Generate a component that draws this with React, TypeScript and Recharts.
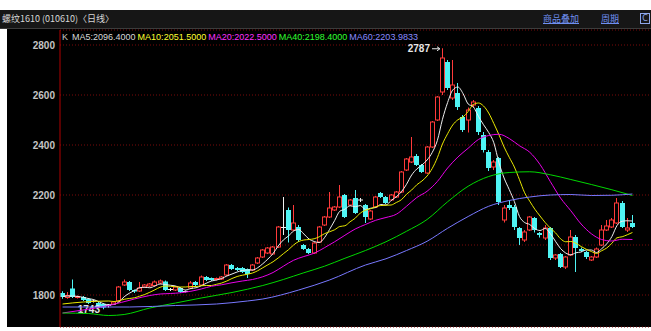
import React from 'react';
import { ComposedChart, Bar, Line, XAxis, YAxis, CartesianGrid } from 'recharts';

const OPEN = [
  1808, 1790, 1826, 1790, 1792, 1784, 1776, 1768, 1764, 1758,
  1764, 1776, 1840, 1852, 1820, 1816, 1832, 1836, 1838, 1848,
  1854, 1822, 1820, 1828, 1814, 1828, 1852, 1840, 1872, 1868,
  1862, 1864, 1880, 1920, 1908, 1908, 1904, 1900, 1928, 1952,
  1968, 1964, 1992, 2070, 2140, 2060, 2072, 2000, 1984, 1968,
  2012, 2080, 2112, 2140, 2152, 2200, 2160, 2188, 2180, 2160,
  2104, 2152, 2208, 2192, 2180, 2192, 2212, 2300, 2332, 2356,
  2320, 2288, 2392, 2500, 2612, 2732, 2588, 2608, 2512, 2500,
  2560, 2548, 2440, 2372, 2312, 2348, 2100, 2160, 2152, 2068,
  2020, 2060, 2108, 2048, 2028, 2068, 1948, 1964, 1912, 1960,
  2032, 1984, 1972, 1940, 1952, 2000, 2060, 2072, 2088, 2168,
  2060, 2088,
];
const CLOSE = [
  1792, 1798, 1792, 1794, 1780, 1768, 1776, 1752, 1750, 1758,
  1772, 1832, 1852, 1820, 1814, 1828, 1840, 1844, 1852, 1856,
  1820, 1822, 1832, 1812, 1814, 1848, 1840, 1872, 1860, 1860,
  1866, 1872, 1920, 1904, 1900, 1892, 1884, 1920, 1948, 1980,
  1988, 1992, 2072, 2070, 2060, 2088, 2020, 1984, 1968, 2008,
  2072, 2112, 2148, 2152, 2192, 2112, 2180, 2128, 2180, 2112,
  2136, 2192, 2192, 2168, 2200, 2212, 2292, 2344, 2352, 2320,
  2292, 2392, 2492, 2592, 2748, 2628, 2640, 2552, 2460, 2540,
  2572, 2452, 2380, 2308, 2332, 2172, 2148, 2148, 2072, 2028,
  2052, 2112, 2060, 2040, 2068, 1948, 1960, 1912, 1952, 2032,
  1988, 1976, 1952, 1952, 1984, 2060, 2076, 2100, 2168, 2072,
  2068, 2072,
];
const HIGH = [
  1815, 1812, 1862, 1798, 1796, 1788, 1782, 1772, 1768, 1764,
  1776, 1836, 1862, 1856, 1822, 1852, 1844, 1848, 1858, 1862,
  1858, 1828, 1836, 1832, 1818, 1856, 1856, 1878, 1876, 1870,
  1870, 1876, 1924, 1924, 1912, 1912, 1906, 1924, 1952, 1984,
  1992, 1996, 2076, 2192, 2150, 2160, 2080, 2004, 1988, 2012,
  2076, 2116, 2212, 2156, 2240, 2204, 2184, 2220, 2188, 2164,
  2140, 2196, 2212, 2196, 2204, 2216, 2296, 2348, 2432, 2364,
  2324, 2396, 2496, 2596, 2787, 2740, 2740, 2648, 2520, 2550,
  2580, 2556, 2452, 2380, 2340, 2352, 2160, 2180, 2160, 2072,
  2060, 2116, 2112, 2052, 2080, 2072, 1964, 1968, 1956, 2060,
  2040, 1990, 1976, 1956, 1990, 2080, 2100, 2108, 2188, 2176,
  2108, 2120,
];
const LOW = [
  1785, 1785, 1788, 1786, 1776, 1764, 1770, 1750, 1743, 1750,
  1760, 1772, 1836, 1816, 1808, 1812, 1828, 1832, 1834, 1844,
  1816, 1816, 1816, 1808, 1810, 1824, 1836, 1836, 1856, 1856,
  1858, 1860, 1876, 1900, 1896, 1888, 1868, 1896, 1924, 1948,
  1964, 1960, 1988, 2040, 2010, 2055, 2012, 1980, 1964, 1964,
  2008, 2076, 2108, 2136, 2148, 2108, 2156, 2124, 2172, 2088,
  2100, 2148, 2188, 2164, 2176, 2188, 2208, 2296, 2328, 2316,
  2288, 2284, 2388, 2496, 2600, 2620, 2580, 2540, 2452, 2450,
  2550, 2440, 2370, 2296, 2300, 2160, 2090, 2140, 2060, 2000,
  2012, 2056, 2050, 2030, 2020, 1940, 1940, 1908, 1904, 1956,
  1892, 1972, 1944, 1936, 1948, 1996, 2056, 2068, 2084, 2068,
  2052, 2068,
];

const MA5 = [
  1794, 1796, 1796, 1794, 1791, 1786, 1782, 1774, 1765, 1761,
  1762, 1773, 1793, 1807, 1818, 1829, 1831, 1829, 1836, 1844,
  1842, 1839, 1836, 1828, 1820, 1826, 1829, 1837, 1847, 1856,
  1860, 1866, 1876, 1884, 1892, 1898, 1900, 1900, 1909, 1925,
  1944, 1966, 1996, 2020, 2036, 2056, 2062, 2044, 2024, 2014,
  2010, 2029, 2062, 2098, 2135, 2143, 2157, 2153, 2158, 2142,
  2147, 2150, 2162, 2160, 2178, 2193, 2213, 2243, 2280, 2304,
  2320, 2340, 2370, 2418, 2503, 2570, 2620, 2632, 2606, 2564,
  2553, 2515, 2481, 2450, 2409, 2329, 2268, 2222, 2174, 2114,
  2090, 2082, 2065, 2058, 2066, 2046, 2015, 1986, 1968, 1961,
  1969, 1972, 1980, 1980, 1970, 1985, 2005, 2034, 2078, 2095,
  2097, 2096,
];
const MA10 = [
  1764, null, null, null, 1772, null, null, null, null, 1776,
  1774, 1777, 1783, 1786, 1789, 1795, 1802, 1811, 1821, 1831,
  1836, 1835, 1833, 1832, 1832, 1834, 1834, 1837, 1838, 1838,
  1843, 1848, 1856, 1866, 1874, 1879, 1883, 1888, 1897, 1909,
  1921, 1933, 1948, 1965, 1981, 2000, 2014, 2020, 2022, 2025,
  2033, 2045, 2053, 2061, 2074, 2077, 2093, 2107, 2128, 2139,
  2145, 2153, 2158, 2159, 2160, 2170, 2181, 2203, 2220, 2241,
  2256, 2276, 2306, 2349, 2404, 2445, 2480, 2501, 2512, 2534,
  2562, 2568, 2556, 2528, 2486, 2441, 2392, 2351, 2312, 2261,
  2209, 2175, 2143, 2116, 2090, 2068, 2049, 2025, 2013, 2014,
  2007, 1994, 1983, 1974, 1966, 1977, 1988, 2007, 2029, 2033,
  2041, 2050,
];
const MA20_PTS = [
  [0, 1728], [4, 1740], [9, 1758], [14, 1784], [17, 1798], [19, 1804], [21, 1806],
  [23, 1809], [25, 1815], [27, 1824], [29, 1835], [31, 1841], [33, 1849], [35, 1856],
  [37, 1862], [39, 1873], [41, 1890], [43, 1915], [45, 1939], [47, 1954], [49, 1967],
  [51, 1989], [53, 2013], [55, 2039], [57, 2064], [59, 2082], [61, 2099], [63, 2110],
  [65, 2123], [67, 2155], [69, 2190], [71, 2215], [73, 2254], [75, 2308], [77, 2352],
  [79, 2387], [81, 2422], [83, 2438], [85, 2443], [87, 2426], [89, 2397], [91, 2371],
  [93, 2322], [95, 2254], [97, 2188], [99, 2137], [101, 2084], [103, 2045], [105, 2022],
  [107, 2016], [109, 2023], [111, 2022],
];
const MA40_PTS = [
  [0, 1728], [5, 1726], [9, 1718], [12, 1722], [17, 1748], [22, 1768], [27, 1788],
  [33, 1810], [39, 1838], [43, 1862], [47, 1889], [51, 1915], [55, 1947], [59, 1978],
  [63, 2013], [67, 2055], [71, 2102], [75, 2173], [79, 2235], [83, 2274], [87, 2290],
  [91, 2293], [95, 2281], [99, 2262], [103, 2242], [107, 2221], [111, 2198],
];
const MA60_PTS = [
  [0, 1752], [7, 1752], [13, 1752], [22, 1758], [30, 1764], [36, 1776], [39, 1784],
  [46, 1820], [52, 1860], [59, 1920], [63, 1945], [67, 1978], [71, 2015], [75, 2067],
  [79, 2114], [83, 2155], [87, 2178], [91, 2192], [95, 2200], [99, 2202], [103, 2198],
  [107, 2199], [111, 2204],
];

const Y_TICKS = [1800, 2000, 2200, 2400, 2600, 2800];
const TITLE = '螺纹1610 (010610)〈日线〉';
const MENU = ['商品叠加', '周期'];
const LEGEND_NAMES = ['MA5', 'MA10', 'MA20', 'MA40', 'MA60'];
const LEGEND_VALUES = ['2096.4000', '2051.5000', '2022.5000', '2198.4000', '2203.9833'];
const MA_KEYS = ['ma5', 'ma10', 'ma20', 'ma40', 'ma60'];
const MA_COLORS = ['#eeeeee', '#e8e800', '#e800e8', '#00d800', '#7878ff'];
const LEGEND_COLORS = ['#d8d8d8', '#ffff30', '#ff30ff', '#30ff30', '#8a8aff'];

const UP = '#ff3a3a';
const DOWN = '#4ff4f4';
const FLAT = '#f0f0f0';
const NUM_FONT = 'Liberation Sans, Arial, sans-serif';

const data = OPEN.map((o, i) => ({
  i,
  o,
  c: CLOSE[i],
  h: HIGH[i],
  l: LOW[i],
  range: [LOW[i], HIGH[i]],
  ma5: MA5[i],
  ma10: MA10[i],
  ma20: null as number | null,
  ma40: null as number | null,
  ma60: null as number | null,
}));
MA20_PTS.forEach(([i, v]) => { data[i].ma20 = v; });
MA40_PTS.forEach(([i, v]) => { data[i].ma40 = v; });
MA60_PTS.forEach(([i, v]) => { data[i].ma60 = v; });

const MAX_H = Math.max(...HIGH);
const MIN_L = Math.min(...LOW);

function Candle(props: any) {
  const { x, y, width, height, payload } = props;
  if (!payload || height == null || isNaN(height)) return null;
  const { o, c, h, l } = payload;
  const k = height / (h - l);
  const cx = Math.floor(x + width / 2);
  const wx = cx + 0.5;
  const yo = y + (h - o) * k;
  const yc = y + (h - c) * k;
  const top = Math.min(yo, yc);
  const bot = Math.max(yo, yc);
  const yL = y + height;
  const parts: any[] = [];
  if (c > o) {
    parts.push(<line key="w1" x1={wx} x2={wx} y1={y} y2={top} stroke={UP} strokeWidth={1} />);
    parts.push(<line key="w2" x1={wx} x2={wx} y1={bot} y2={yL} stroke={UP} strokeWidth={1} />);
    parts.push(<rect key="b" x={cx - 1.5} y={top} width={4} height={Math.max(1, bot - top)} fill="#000" stroke={UP} strokeWidth={1} />);
  } else if (c < o) {
    parts.push(<line key="w" x1={wx} x2={wx} y1={y} y2={yL} stroke={DOWN} strokeWidth={1} />);
    parts.push(<rect key="b" x={cx - 2} y={top} width={5} height={Math.max(1, bot - top)} fill={DOWN} />);
  } else {
    parts.push(<line key="w" x1={wx} x2={wx} y1={y} y2={yL} stroke={FLAT} strokeWidth={1} />);
    parts.push(<line key="b" x1={cx - 2} x2={cx + 3} y1={yo} y2={yo} stroke={FLAT} strokeWidth={1} />);
  }
  if (h === MAX_H) {
    parts.push(<text key="t" x={cx - 12} y={y + 4} textAnchor="end" fill="#e6e6e6" fontSize={10} fontWeight={700} fontFamily={NUM_FONT}>{String(h)}</text>);
    parts.push(<line key="a" x1={cx - 10} x2={cx - 3} y1={y + 0.5} y2={y + 0.5} stroke="#e6e6e6" strokeWidth={1} />);
    parts.push(<path key="ah" d={`M${cx - 5},${y - 1.5} L${cx - 2},${y + 0.5} L${cx - 5},${y + 2.5}`} stroke="#e6e6e6" fill="none" strokeWidth={1} />);
  }
  if (l === MIN_L) {
    parts.push(<text key="t2" x={cx - 3} y={yL + 4} textAnchor="end" fill="#e6e6e6" fontSize={10} fontWeight={700} fontFamily={NUM_FONT}>{String(l)}</text>);
  }
  return <g>{parts}</g>;
}

const headerText = {
  position: 'absolute' as const,
  top: 3,
  fontSize: 9,
  lineHeight: '12px',
  fontFamily: '"Noto Sans CJK SC", sans-serif',
  whiteSpace: 'nowrap' as const,
};

export default function App() {
  return (
    <div style={{ position: 'fixed', left: 0, top: 0, width: 651, height: 331, background: '#ffffff', overflow: 'hidden' }}>
      <div style={{ position: 'absolute', left: 0, top: 10, width: 651, height: 19, background: '#161616', borderBottom: '1px solid #3c3c3c', boxSizing: 'border-box' }}>
        <div style={{ ...headerText, left: 2, color: '#d6d6d6' }}>{TITLE}</div>
        <div style={{ ...headerText, left: 543, color: '#6f8ff0', textDecoration: 'underline' }}>{MENU[0]}</div>
        <div style={{ ...headerText, left: 601, color: '#6f8ff0', textDecoration: 'underline' }}>{MENU[1]}</div>
        <div style={{ position: 'absolute', left: 640, top: 3, width: 10, height: 11, border: '1px solid #8ea6e8', boxSizing: 'border-box', color: '#8ea6e8', fontSize: 8, lineHeight: '9px', textAlign: 'center', fontFamily: 'DejaVu Sans, sans-serif' }}>C</div>
      </div>
      <div style={{ position: 'absolute', left: 7, top: 29, width: 644, height: 298, background: '#000000' }} />
      <div style={{ position: 'absolute', left: 0, top: 0 }}>
        <ComposedChart width={651} height={331} data={data} margin={{ top: 30, right: 0, bottom: 4, left: 0 }}>
          <CartesianGrid horizontal vertical={false} stroke="#7a0a0a" strokeDasharray="1 2" />
          <XAxis dataKey="i" type="category" hide padding={{ left: 0, right: 16 }} />
          <YAxis
            type="number"
            domain={[1672, 2860]}
            allowDataOverflow
            ticks={Y_TICKS}
            interval={0}
            width={60}
            tickSize={3}
            tickMargin={2}
            tickLine={false}
            axisLine={{ stroke: '#b00000' }}
            tick={{ fill: '#c4c4c4', fontSize: 10, fontWeight: 700, fontFamily: NUM_FONT }}
          />
          <Bar dataKey="range" barSize={5} isAnimationActive={false} shape={(p: any) => <Candle {...p} />} />
          {MA_KEYS.map((k, idx) => (
            <Line key={k} dataKey={k} type="monotone" stroke={MA_COLORS[idx]} strokeWidth={1} dot={false} activeDot={false} connectNulls isAnimationActive={false} />
          ))}
        </ComposedChart>
      </div>
      <div style={{ position: 'absolute', left: 62, top: 31, fontSize: 9, lineHeight: '12px', fontFamily: NUM_FONT, whiteSpace: 'nowrap' }}>
        <span style={{ color: '#c8c8c8', marginRight: 4 }}>K</span>
        {LEGEND_NAMES.map((n, idx) => (
          <span key={n} style={{ color: LEGEND_COLORS[idx], marginRight: 2 }}>{n}:{LEGEND_VALUES[idx]}</span>
        ))}
      </div>
    </div>
  );
}
